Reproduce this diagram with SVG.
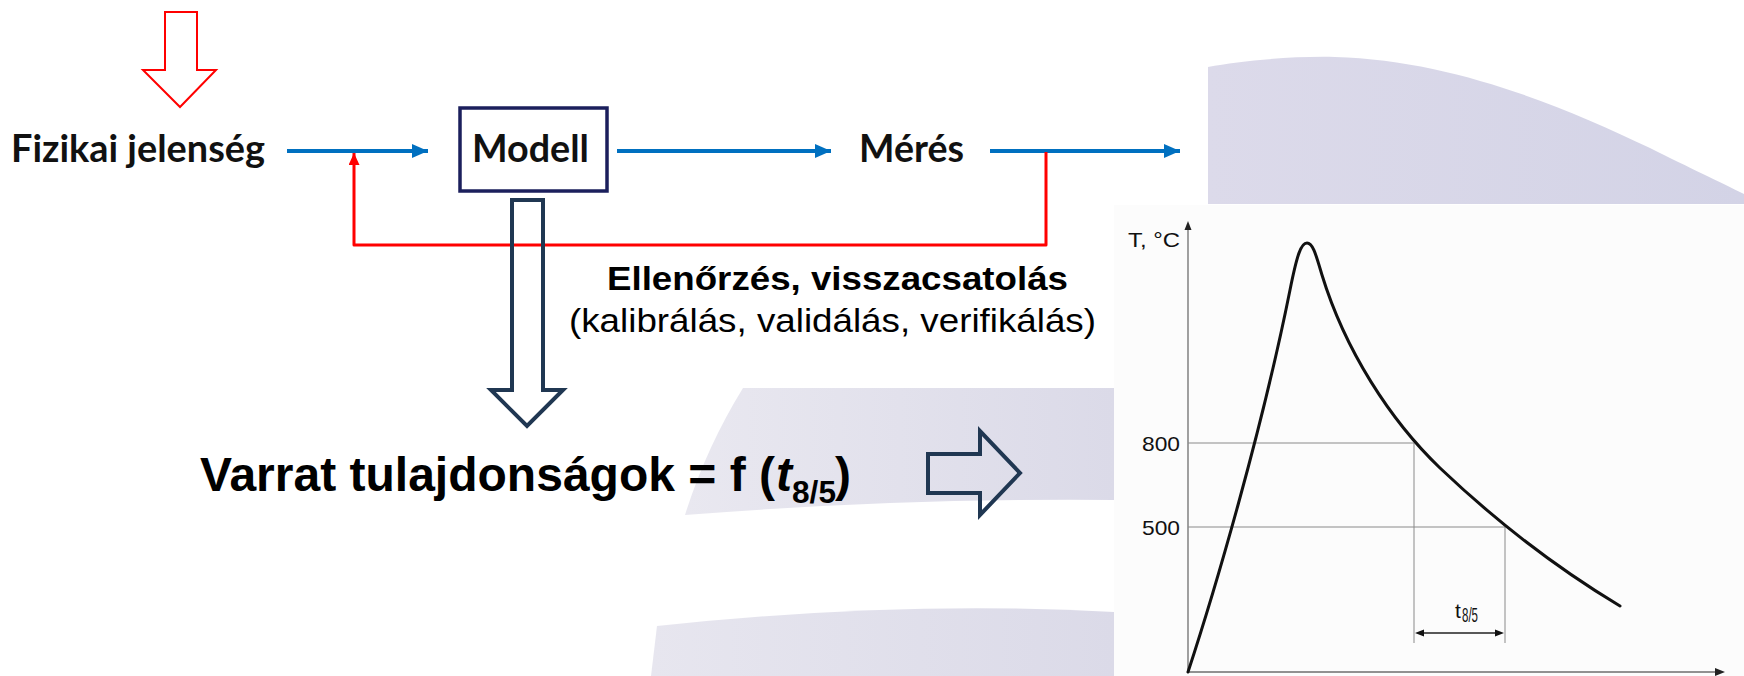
<svg xmlns="http://www.w3.org/2000/svg" width="1744" height="676" viewBox="0 0 1744 676">
  <defs>
    <linearGradient id="lavTop" x1="0" y1="0" x2="1" y2="0">
      <stop offset="0" stop-color="#dcdaea"/>
      <stop offset="1" stop-color="#d3d3e6"/>
    </linearGradient>
    <linearGradient id="lavMid" x1="0" y1="0" x2="1" y2="0">
      <stop offset="0" stop-color="#e9e8f0"/>
      <stop offset="1" stop-color="#dbdae8"/>
    </linearGradient>
    <linearGradient id="lavLow" x1="0" y1="0" x2="1" y2="0">
      <stop offset="0" stop-color="#e7e6ef"/>
      <stop offset="1" stop-color="#dbdae8"/>
    </linearGradient>
    <marker id="blueHead" markerUnits="userSpaceOnUse" markerWidth="17" markerHeight="15" refX="16" refY="7" orient="auto">
      <path d="M0,0 L16,7 L0,14 Z" fill="#0070c0"/>
    </marker>
    <marker id="redHead" markerUnits="userSpaceOnUse" markerWidth="13" markerHeight="12" refX="12" refY="5.5" orient="auto">
      <path d="M0,0 L12,5.5 L0,11 Z" fill="#ff0000"/>
    </marker>
  </defs>
  <style>
    .cal{font-family:Lato,"Open Sans","Liberation Sans",sans-serif;font-weight:700;font-size:38px;fill:#111}
    .ari{font-family:"Liberation Sans",Arial,sans-serif;fill:#000}
    .flow{stroke:#0070c0;stroke-width:4;fill:none}
    .feedback{stroke:#ff0000;stroke-width:3;fill:none;stroke-linejoin:round}
    .hollow{fill:none;stroke:#203752;stroke-width:4;stroke-linejoin:miter}
    .axis{stroke:#6e6e6e;stroke-width:1.3;fill:none}
    .guide{stroke:#8a8a8a;stroke-width:1;fill:none}
    .tick{font-family:"Liberation Sans",Arial,sans-serif;font-size:21px;fill:#111}
  </style>

  <!-- soft lavender backdrop panels -->
  <g id="backdrop">
    <path d="M1208,67 C1240,61 1290,56 1335,57 C1450,60 1560,105 1650,148 C1690,168 1720,182 1744,194 L1744,204 L1208,204 Z" fill="url(#lavTop)"/>
    <path d="M743,388 L1114,388 L1114,500 Q900,498 685,515 Q706,448 743,388 Z" fill="url(#lavMid)"/>
    <path d="M657,626 Q900,600 1114,612 L1114,676 L651,676 Z" fill="url(#lavLow)"/>
    <rect x="1114" y="205" width="630" height="471" fill="#fcfcfc"/>
  </g>

  <!-- input arrow -->
  <g id="input-arrow">
    <polygon points="165,12 197,12 197,70 216,70 180,107 143,70 165,70" fill="#ffffff" stroke="#ff0000" stroke-width="2"/>
  </g>

  <!-- connectors -->
  <g id="connectors">
    <line class="flow" x1="287" y1="151" x2="428" y2="151" marker-end="url(#blueHead)"/>
    <line class="flow" x1="617" y1="151" x2="831" y2="151" marker-end="url(#blueHead)"/>
    <line class="flow" x1="990" y1="151" x2="1180" y2="151" marker-end="url(#blueHead)"/>
    <path class="feedback" d="M1046,152 V245 H354 V153" marker-end="url(#redHead)"/>
    <polygon class="hollow" points="512,200 543,200 543,390 563,390 527,426 491,390 512,390"/>
    <polygon class="hollow" points="928,454 980,454 980,431 1020,473 980,515 980,493 928,493"/>
  </g>

  <g id="node-fizikai">
    <text class="cal" x="11" y="162" textLength="254" lengthAdjust="spacingAndGlyphs">Fizikai jelenség</text>
  </g>

  <g id="node-modell">
    <rect x="460" y="108" width="147" height="83" fill="#ffffff" stroke="#1b1f5c" stroke-width="3.5"/>
    <text class="cal" x="472" y="162" textLength="117" lengthAdjust="spacingAndGlyphs">Modell</text>
  </g>

  <g id="node-meres">
    <text class="cal" x="859" y="162" textLength="105" lengthAdjust="spacingAndGlyphs">Mérés</text>
  </g>

  <g id="node-feedback-label">
    <text class="ari" x="607" y="290" font-size="34" font-weight="700" textLength="461" lengthAdjust="spacingAndGlyphs">Ellenőrzés, visszacsatolás</text>
    <text class="ari" x="569" y="332" font-size="34" textLength="527" lengthAdjust="spacingAndGlyphs">(kalibrálás, validálás, verifikálás)</text>
  </g>

  <g id="node-varrat">
    <text class="ari" x="200" y="491" font-size="48" font-weight="700" textLength="575" lengthAdjust="spacingAndGlyphs">Varrat tulajdonságok = f (</text>
    <text class="ari" x="776" y="491" font-size="48" font-weight="700" font-style="italic">t</text>
    <text class="ari" x="792" y="503" font-size="31" font-weight="700" textLength="44" lengthAdjust="spacingAndGlyphs">8/5</text>
    <text class="ari" x="835" y="491" font-size="48" font-weight="700">)</text>
  </g>

  <!-- thermal cycle chart -->
  <g id="chart">
    <line class="axis" x1="1188" y1="672" x2="1188" y2="229"/>
    <path d="M1188,221 L1191.5,230 L1184.5,230 Z" fill="#222"/>
    <line class="axis" x1="1188" y1="672" x2="1716" y2="672"/>
    <path d="M1725,672 L1715,668 L1715,676 Z" fill="#222"/>
    <path class="guide" d="M1188,443 H1414 V643 M1188,527 H1505 V643"/>
    <line x1="1422" y1="633" x2="1497" y2="633" stroke="#222" stroke-width="1.3"/>
    <path d="M1415,633 L1424,629.5 L1424,636.5 Z M1504,633 L1495,629.5 L1495,636.5 Z" fill="#111"/>
    <path d="M1188,672 C1215,590 1262,430 1290,290 C1297,255 1301,243 1307,243 C1313,243 1316,255 1322,275 C1345,350 1390,420 1440,468 C1500,525 1560,570 1620,606" fill="none" stroke="#111" stroke-width="3" stroke-linecap="round"/>
    <text class="tick" x="1128" y="247" textLength="52" lengthAdjust="spacingAndGlyphs">T, °C</text>
    <text class="tick" x="1142" y="451" textLength="38" lengthAdjust="spacingAndGlyphs">800</text>
    <text class="tick" x="1142" y="535" textLength="38" lengthAdjust="spacingAndGlyphs">500</text>
    <text class="tick" x="1455" y="618">t</text>
    <text class="tick" x="1462" y="622" font-size="13" textLength="16" lengthAdjust="spacingAndGlyphs">8/5</text>
  </g>
</svg>
